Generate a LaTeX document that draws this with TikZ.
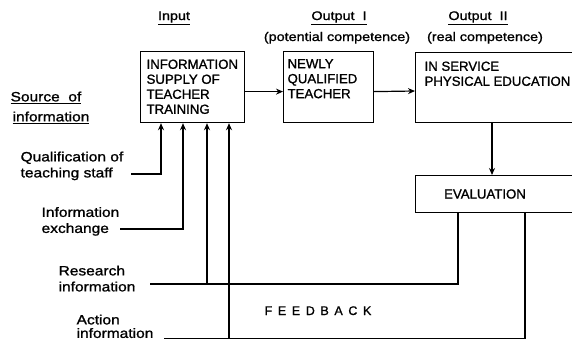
\documentclass[tikz,border=0pt]{standalone}
\usepackage{fontspec}
\setmainfont[FakeBold=0.8]{Liberation Sans}
\newfontfamily\boxf[FakeBold=1.2]{Liberation Sans}
\newfontfamily\lab[FakeStretch=1.15,FakeBold=1.2]{Liberation Sans}
\newfontfamily\spc[LetterSpace=45,FakeBold=1.2]{Liberation Sans}
\usetikzlibrary{arrows.meta}
\begin{document}
\begin{tikzpicture}[x=1pt,y=-1pt,line width=1.2pt,
  box/.style={draw,anchor=north west,inner sep=0pt},
  btxt/.style={font=\boxf\fontsize{13.2}{15}\selectfont,align=left,inner sep=0pt,anchor=north west},
  lbl/.style={font=\lab\fontsize{13.5}{16}\selectfont,align=left,inner sep=0pt,anchor=north west},
  hdr/.style={font=\lab\fontsize{12.5}{14}\selectfont,inner sep=0pt,anchor=base},
  arr/.style={-{Stealth[length=7pt,width=6pt]}}]
\clip (0,0) rectangle (572,340);
% headers
\node[hdr] (hin) at (174,20) {\underline{Input}};
\node[hdr] (ho1) at (339,20) {\underline{Output\ \ I}};
\node[hdr] (ho2) at (478,20) {\underline{Output\ \ II}};
\node[hdr] (hp) at (337,41) {(potential competence)};
\node[hdr] (hr) at (485,41) {(real competence)};
% boxes
\node[box,minimum width=104pt,minimum height=71pt] (b1) at (140,51) {};
\node[box,minimum width=90pt,minimum height=71pt] (b2) at (283,51) {};
\node[box,minimum width=200pt,minimum height=70pt] (b3) at (415,52) {};
\node[box,minimum width=200pt,minimum height=37pt] (ev) at (415,175) {};
\node[btxt] (t1) at (146,59) {INFORMATION\\SUPPLY OF\\TEACHER\\TRAINING};
\node[btxt] (t2) at (287,58.5) {NEWLY\\QUALIFIED\\TEACHER};
\node[btxt] (t3) at (424,61) {IN SERVICE\\PHYSICAL EDUCATION};
\node[font=\boxf\fontsize{13.2}{15}\selectfont,inner sep=0pt] (tev) at (485,194) {EVALUATION};
% left labels
\node[lbl] (src1) at (10,91) {\underline{Source\ \ of}};
\node[lbl] (src2) at (12,111) {\underline{information}};
\node[lbl] (lq) at (20,151) {Qualification of\\teaching staff};
\node[lbl] (le) at (41,206.5) {Information\\exchange};
\node[lbl] (lr) at (58,265) {Research\\information};
\node[lbl,font=\lab\fontsize{13.5}{13.5}\selectfont] (la) at (76,314) {Action\\information};
\node[font=\spc\fontsize{12.5}{14}\selectfont,inner sep=0pt,anchor=base] (fb) at (318,315) {FEEDBACK};
% coordinates
\coordinate (qs) at (131,174); \coordinate (j1) at (161,174);
\coordinate (es) at (120,229); \coordinate (j2) at (183,229);
\coordinate (rs) at (150,284); \coordinate (j3) at (207,284); \coordinate (f1) at (458,284);
\coordinate (as) at (164,338.5); \coordinate (j4) at (229,338.5); \coordinate (f2) at (525,338.5);
\coordinate (m3) at (492,0);
% main flow
\draw[arr] ([yshift=-4.5pt]b1.east) -- ([yshift=-4.5pt]b2.west);
\draw[arr] ([yshift=-4.5pt]b2.east) -- (b3.west |- 0,91);
\draw[arr] (b3.south -| m3) -- (ev.north -| m3);
% inputs
\draw[arr] (qs) -- (j1) -- (b1.south -| j1);
\draw[arr] (es) -- (j2) -- (b1.south -| j2);
\draw (ev.south -| f1) -- (f1) -- (rs);
\draw[arr] (j3) -- (b1.south -| j3);
\draw (ev.south -| f2) -- (f2) -- (as);
\draw[arr] (j4) -- (b1.south -| j4);
\end{tikzpicture}
\end{document}
